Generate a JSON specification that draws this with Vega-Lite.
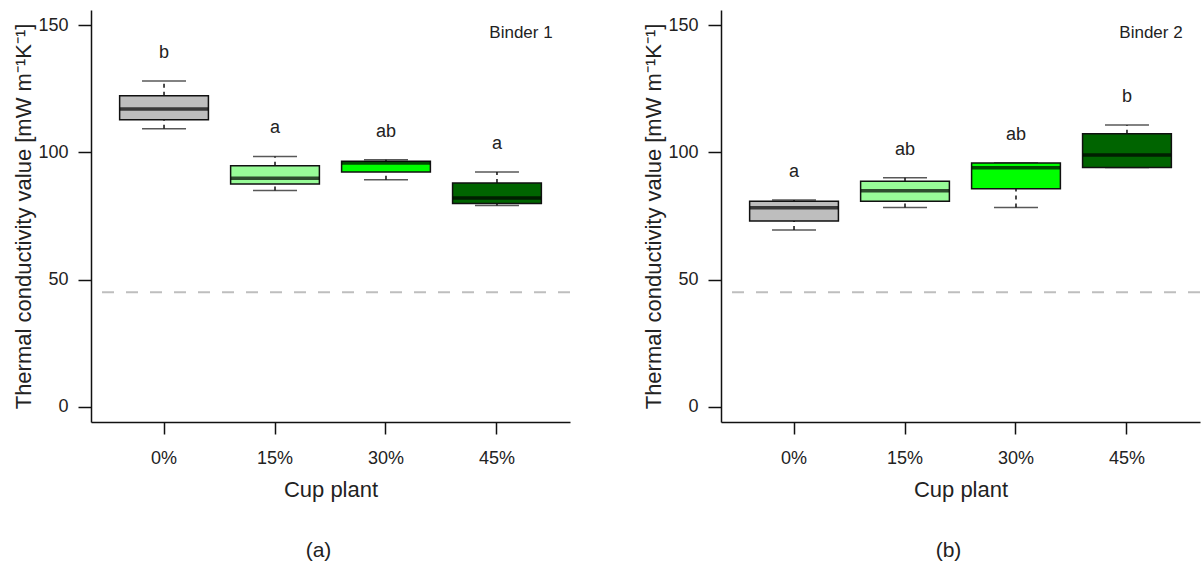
{
  "$schema": "https://vega.github.io/schema/vega-lite/v6.json",
  "padding": {"left": 12, "top": 10, "right": 0, "bottom": 0},
  "config": {
    "font": "Liberation Sans",
    "view": {"stroke": null},
    "axis": {"grid": false, "domainColor": "#111", "tickColor": "#111", "labelColor": "#222", "titleColor": "#222", "labelFontSize": 18, "titleFontSize": 22, "titleFontWeight": "normal", "domainWidth": 1.5, "tickWidth": 1.5},
    "title": {"fontWeight": "normal", "fontSize": 21, "color": "#222"}
  },
  "datasets": {
    "boxes": [
      {"panel": "a", "group": "0%", "lower": 109.3, "q1": 112.8, "median": 117.1, "q3": 122.3, "upper": 128.1, "letter": "b"},
      {"panel": "a", "group": "15%", "lower": 85.0, "q1": 87.6, "median": 89.8, "q3": 94.8, "upper": 98.4, "letter": "a"},
      {"panel": "a", "group": "30%", "lower": 89.3, "q1": 92.3, "median": 95.8, "q3": 96.5, "upper": 97.1, "letter": "ab"},
      {"panel": "a", "group": "45%", "lower": 79.1, "q1": 79.9, "median": 82.1, "q3": 88.0, "upper": 92.3, "letter": "a"},
      {"panel": "b", "group": "0%", "lower": 69.5, "q1": 73.0, "median": 78.2, "q3": 80.8, "upper": 81.3, "letter": "a"},
      {"panel": "b", "group": "15%", "lower": 78.3, "q1": 80.8, "median": 84.9, "q3": 88.7, "upper": 90.0, "letter": "ab"},
      {"panel": "b", "group": "30%", "lower": 78.3, "q1": 85.7, "median": 94.0, "q3": 95.8, "upper": 95.8, "letter": "ab"},
      {"panel": "b", "group": "45%", "lower": 94.1, "q1": 94.1, "median": 99.0, "q3": 107.3, "upper": 110.8, "letter": "b"}
    ],
    "binders": [
      {"panel": "a", "group": "45%", "v": 147, "label": "Binder 1"},
      {"panel": "b", "group": "45%", "v": 147, "label": "Binder 2"}
    ],
    "ref": [{"ref": 45}]
  },
  "spacing": 71,
  "hconcat": [
    {
      "width": 479,
      "height": 412,
      "title": {"text": "(a)", "orient": "bottom", "offset": 40, "dx": -12},
      "encoding": {
        "x": {"field": "group", "type": "nominal", "sort": ["0%", "15%", "30%", "45%"],
              "scale": {"domain": ["0%", "15%", "30%", "45%"], "paddingInner": 0.2, "paddingOuter": 0.258},
              "axis": {"title": "Cup plant", "labelAngle": 0, "tickSize": 12, "labelPadding": 15, "titlePadding": 12}}
      },
      "layer": [
        {"data": {"name": "ref"}, "mark": {"type": "rule", "color": "#BEBEBE", "strokeWidth": 2, "strokeDash": [12, 12]},
         "encoding": {"x": null, "y": {"field": "ref", "type": "quantitative",
           "scale": {"domain": [-6, 156], "nice": false, "zero": false},
           "axis": {"values": [0, 50, 100, 150], "title": "Thermal conductivity value [mW m⁻¹K⁻¹]", "labelAngle": 0, "tickSize": 13, "labelPadding": 10, "titlePadding": 2}}}},
        {"data": {"name": "boxes"}, "transform": [{"filter": "datum.panel === 'a'"}], "mark": {"type": "rule", "color": "#111", "strokeWidth": 1.5, "strokeDash": [4, 4]},
         "encoding": {"y": {"field": "lower", "type": "quantitative"}, "y2": {"field": "q1"}}},
        {"data": {"name": "boxes"}, "transform": [{"filter": "datum.panel === 'a'"}], "mark": {"type": "rule", "color": "#111", "strokeWidth": 1.5, "strokeDash": [4, 4]},
         "encoding": {"y": {"field": "q3", "type": "quantitative"}, "y2": {"field": "upper"}}},
        {"data": {"name": "boxes"}, "transform": [{"filter": "datum.panel === 'a'"}], "mark": {"type": "tick", "color": "#111", "size": 44, "thickness": 1.5},
         "encoding": {"y": {"field": "lower", "type": "quantitative"}}},
        {"data": {"name": "boxes"}, "transform": [{"filter": "datum.panel === 'a'"}], "mark": {"type": "tick", "color": "#111", "size": 44, "thickness": 1.5},
         "encoding": {"y": {"field": "upper", "type": "quantitative"}}},
        {"data": {"name": "boxes"}, "transform": [{"filter": "datum.panel === 'a'"}], "mark": {"type": "rect", "stroke": "#111", "strokeWidth": 1.5},
         "encoding": {"y": {"field": "q1", "type": "quantitative"}, "y2": {"field": "q3"},
           "fill": {"field": "group", "type": "nominal", "legend": null,
             "scale": {"domain": ["0%", "15%", "30%", "45%"], "range": ["#BEBEBE", "#98FB98", "#00FF00", "#006400"]}}}},
        {"data": {"name": "boxes"}, "transform": [{"filter": "datum.panel === 'a'"}], "mark": {"type": "tick", "color": "#000", "size": 88, "thickness": 3.5},
         "encoding": {"y": {"field": "median", "type": "quantitative"}}},
        {"data": {"name": "boxes"}, "transform": [{"filter": "datum.panel === 'a'"}], "mark": {"type": "text", "fontSize": 18, "color": "#222", "baseline": "middle", "dy": -28},
         "encoding": {"y": {"field": "upper", "type": "quantitative"}, "text": {"field": "letter"}}},
        {"data": {"name": "binders"}, "transform": [{"filter": "datum.panel === 'a'"}], "mark": {"type": "text", "fontSize": 17, "color": "#222", "baseline": "middle", "dx": 24},
         "encoding": {"y": {"field": "v", "type": "quantitative"}, "text": {"field": "label"}}}
      ]
    },
    {
      "width": 479,
      "height": 412,
      "title": {"text": "(b)", "orient": "bottom", "offset": 40, "dx": -12},
      "encoding": {
        "x": {"field": "group", "type": "nominal", "sort": ["0%", "15%", "30%", "45%"],
              "scale": {"domain": ["0%", "15%", "30%", "45%"], "paddingInner": 0.2, "paddingOuter": 0.258},
              "axis": {"title": "Cup plant", "labelAngle": 0, "tickSize": 12, "labelPadding": 15, "titlePadding": 12}}
      },
      "layer": [
        {"data": {"name": "ref"}, "mark": {"type": "rule", "color": "#BEBEBE", "strokeWidth": 2, "strokeDash": [12, 12]},
         "encoding": {"x": null, "y": {"field": "ref", "type": "quantitative",
           "scale": {"domain": [-6, 156], "nice": false, "zero": false},
           "axis": {"values": [0, 50, 100, 150], "title": "Thermal conductivity value [mW m⁻¹K⁻¹]", "labelAngle": 0, "tickSize": 13, "labelPadding": 10, "titlePadding": 2}}}},
        {"data": {"name": "boxes"}, "transform": [{"filter": "datum.panel === 'b'"}], "mark": {"type": "rule", "color": "#111", "strokeWidth": 1.5, "strokeDash": [4, 4]},
         "encoding": {"y": {"field": "lower", "type": "quantitative"}, "y2": {"field": "q1"}}},
        {"data": {"name": "boxes"}, "transform": [{"filter": "datum.panel === 'b'"}], "mark": {"type": "rule", "color": "#111", "strokeWidth": 1.5, "strokeDash": [4, 4]},
         "encoding": {"y": {"field": "q3", "type": "quantitative"}, "y2": {"field": "upper"}}},
        {"data": {"name": "boxes"}, "transform": [{"filter": "datum.panel === 'b'"}], "mark": {"type": "tick", "color": "#111", "size": 44, "thickness": 1.5},
         "encoding": {"y": {"field": "lower", "type": "quantitative"}}},
        {"data": {"name": "boxes"}, "transform": [{"filter": "datum.panel === 'b'"}], "mark": {"type": "tick", "color": "#111", "size": 44, "thickness": 1.5},
         "encoding": {"y": {"field": "upper", "type": "quantitative"}}},
        {"data": {"name": "boxes"}, "transform": [{"filter": "datum.panel === 'b'"}], "mark": {"type": "rect", "stroke": "#111", "strokeWidth": 1.5},
         "encoding": {"y": {"field": "q1", "type": "quantitative"}, "y2": {"field": "q3"},
           "fill": {"field": "group", "type": "nominal", "legend": null,
             "scale": {"domain": ["0%", "15%", "30%", "45%"], "range": ["#BEBEBE", "#98FB98", "#00FF00", "#006400"]}}}},
        {"data": {"name": "boxes"}, "transform": [{"filter": "datum.panel === 'b'"}], "mark": {"type": "tick", "color": "#000", "size": 88, "thickness": 3.5},
         "encoding": {"y": {"field": "median", "type": "quantitative"}}},
        {"data": {"name": "boxes"}, "transform": [{"filter": "datum.panel === 'b'"}], "mark": {"type": "text", "fontSize": 18, "color": "#222", "baseline": "middle", "dy": -28},
         "encoding": {"y": {"field": "upper", "type": "quantitative"}, "text": {"field": "letter"}}},
        {"data": {"name": "binders"}, "transform": [{"filter": "datum.panel === 'b'"}], "mark": {"type": "text", "fontSize": 17, "color": "#222", "baseline": "middle", "dx": 24},
         "encoding": {"y": {"field": "v", "type": "quantitative"}, "text": {"field": "label"}}}
      ]
    }
  ]
}
